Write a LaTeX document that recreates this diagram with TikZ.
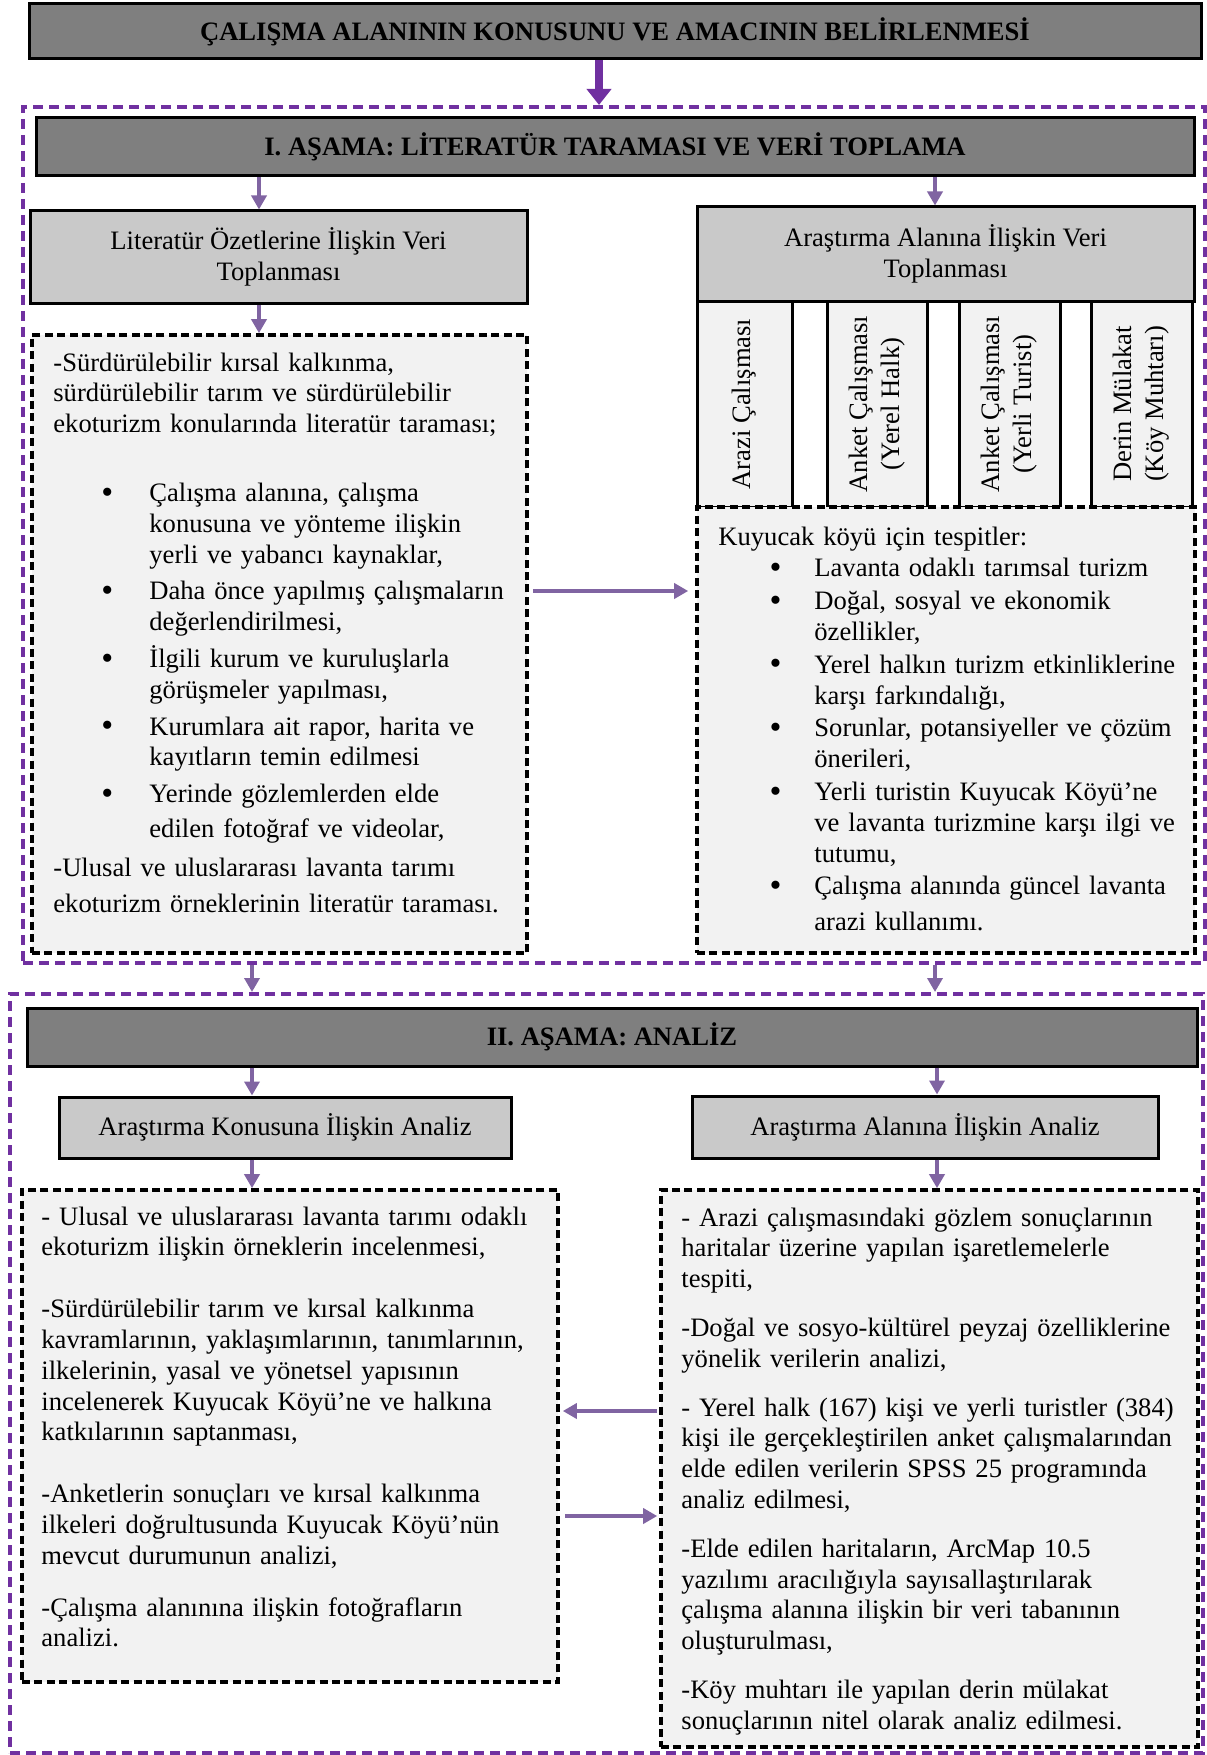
\documentclass[tikz,border=0pt]{standalone}
\usepackage{fontspec}
\setmainfont{Liberation Serif}
\usepackage{enumitem}
\usetikzlibrary{arrows.meta,positioning}
\definecolor{hdgray}{HTML}{7F7F7F}
\definecolor{subgray}{HTML}{C9C9C9}
\definecolor{boxfill}{HTML}{F2F2F2}
\definecolor{phasepurple}{HTML}{7030A0}
\definecolor{arrpurple}{HTML}{8064A2}
\newcommand{\bigbullet}{{\fontsize{17}{15}\selectfont\raisebox{-0.8pt}{\textbullet}}}

\begin{document}
\begin{tikzpicture}[x=0.5pt, y=-0.5pt,
  bighd/.style={draw=black, line width=1.5pt, fill=hdgray, inner sep=0pt,
    font=\fontsize{13.3}{15.4}\selectfont\bfseries},
  subhd/.style={draw=black, line width=1.5pt, fill=subgray, inner sep=0pt, align=center,
    font=\fontsize{13.3}{15.6}\selectfont},
  vbox/.style={draw=black, line width=1.5pt, fill=boxfill, inner sep=0pt, rotate=90,
    align=center, font=\fontsize{13.3}{16}\selectfont},
  notebox/.style={draw=black, line width=1.8pt, dash pattern=on 4pt off 2.2pt, fill=boxfill, inner sep=0pt},
  phase/.style={draw=phasepurple, line width=2pt, dash pattern=on 5pt off 3pt, inner sep=0pt},
  bodytxt/.style={anchor=base west, inner sep=0pt, align=left, text width=268pt,
    font=\fontsize{13.3}{15.4}\selectfont},
  arr/.style={arrpurple, line width=1.8pt, -{Triangle[length=7pt,width=7.5pt]}},
  bigarr/.style={phasepurple, line width=4pt, -{Triangle[length=8pt,width=12pt]}}]

  \useasboundingbox (0,0) rectangle (1206,1755);

  % columns of the arrows
  \coordinate (cTop) at (599,0);
  \coordinate (cL1) at (259,0);
  \coordinate (cR1) at (935,0);
  \coordinate (cL2) at (252,0);
  \coordinate (cR2) at (937,0);
  \coordinate (rA) at (0,591);
  \coordinate (rB) at (0,1411);
  \coordinate (rC) at (0,1516);

  % frames of the two stages
  \node (phA) [phase, minimum width=591pt, minimum height=428pt] at (614,535) {};
  \node (phB) [phase, minimum width=596.5pt, minimum height=379.5pt] at (606.5,1373.5) {};

  \node (top) [bighd, minimum width=586pt, minimum height=27.5pt] at (615,31.5)
    {ÇALIŞMA ALANININ KONUSUNU VE AMACININ BELİRLENMESİ};

  % I. stage
  \node (hdA) [bighd, minimum width=579pt, minimum height=29pt] at (615,147)
    {I. AŞAMA: LİTERATÜR TARAMASI VE VERİ TOPLAMA};
  \node (litHd) [subhd, minimum width=248.5pt, minimum height=46pt] at (278.5,257)
    {Literatür Özetlerine İlişkin Veri\\Toplanması};
  \node (fldHd) [subhd, minimum width=248.5pt, minimum height=47pt] at (945.5,254)
    {Araştırma Alanına İlişkin Veri\\Toplanması};

  \node (arazi) [vbox, minimum width=103pt, minimum height=47.5pt] at (744.5,404) {Arazi Çalışması};
  \node (halk) [vbox, minimum width=103pt, minimum height=50pt] at (877,404) {Anket Çalışması\\(Yerel Halk)};
  \node (turist) [vbox, minimum width=103pt, minimum height=50.5pt] at (1009.5,404) {Anket Çalışması\\(Yerli Turist)};
  \node (muhtar) [vbox, minimum width=103pt, minimum height=50.5pt] at (1141.5,404) {Derin Mülakat\\(Köy Muhtarı)};

  \node (litBox) [notebox, minimum width=247.5pt, minimum height=309pt] at (279.5,644) {};
  \node (fldBox) [notebox, minimum width=249pt, minimum height=223pt] at (946,730) {};

  \node (litTxt) [bodytxt] at (53,371) {%
    -Sürdürülebilir kırsal kalkınma,\\
    sürdürülebilir tarım ve sürdürülebilir\\
    ekoturizm konularında literatür taraması;\par\vspace{19pt}
    \begin{itemize}[label=\bigbullet, leftmargin=48pt, labelsep=18pt, topsep=0pt,
      partopsep=0pt, itemsep=3pt, parsep=0pt]
    \item Çalışma alanına, çalışma\\konusuna ve yönteme ilişkin\\yerli ve yabancı kaynaklar,
    \item Daha önce yapılmış çalışmaların\\değerlendirilmesi,
    \item İlgili kurum ve kuruluşlarla\\görüşmeler yapılması,
    \item Kurumlara ait rapor, harita ve\\kayıtların temin edilmesi
    \item Yerinde gözlemlerden elde\\[2pt]edilen fotoğraf ve videolar,
    \end{itemize}
    \vspace{4pt}
    -Ulusal ve uluslararası lavanta tarımı\\[2.5pt]
    ekoturizm örneklerinin literatür taraması.};

  \node (fldTxt) [bodytxt] at (718,545) {%
    Kuyucak köyü için tespitler:
    \begin{itemize}[label=\bigbullet, leftmargin=48pt, labelsep=16.5pt, topsep=0.5pt,
      partopsep=0pt, itemsep=1pt, parsep=0pt]
    \item Lavanta odaklı tarımsal turizm
    \item Doğal, sosyal ve ekonomik\\özellikler,
    \item Yerel halkın turizm etkinliklerine\\karşı farkındalığı,
    \item Sorunlar, potansiyeller ve çözüm\\önerileri,
    \item Yerli turistin Kuyucak Köyü’ne\\ve lavanta turizmine karşı ilgi ve\\tutumu,
    \item Çalışma alanında güncel lavanta\\[2.5pt]arazi kullanımı.
    \end{itemize}};

  % II. stage
  \node (hdB) [bighd, minimum width=585pt, minimum height=29pt] at (612,1037) {II. AŞAMA: ANALİZ};
  \node (konHd) [subhd, minimum width=226pt, minimum height=30.5pt] at (285,1127.5)
    {Araştırma Konusuna İlişkin Analiz};
  \node (alnHd) [subhd, minimum width=233pt, minimum height=31pt] at (925,1127)
    {Araştırma Alanına İlişkin Analiz};

  \node (konBox) [notebox, minimum width=268pt, minimum height=246pt] at (290,1436) {};
  \node (alnBox) [notebox, minimum width=268.5pt, minimum height=278.5pt] at (929.5,1468.5) {};

  \node (konTxt) [bodytxt] at (41,1225) {%
    - Ulusal ve uluslararası lavanta tarımı odaklı\\
    ekoturizm ilişkin örneklerin incelenmesi,\\[15.5pt]
    -Sürdürülebilir tarım ve kırsal kalkınma\\
    kavramlarının, yaklaşımlarının, tanımlarının,\\
    ilkelerinin, yasal ve yönetsel yapısının\\
    incelenerek Kuyucak Köyü’ne ve halkına\\
    katkılarının saptanması,\\[15.5pt]
    -Anketlerin sonuçları ve kırsal kalkınma\\
    ilkeleri doğrultusunda Kuyucak Köyü’nün\\
    mevcut durumunun analizi,\\[10.5pt]
    -Çalışma alanınına ilişkin fotoğrafların\\
    analizi.};

  \node (alnTxt) [bodytxt] at (681,1226) {%
    - Arazi çalışmasındaki gözlem sonuçlarının\\
    haritalar üzerine yapılan işaretlemelerle\\
    tespiti,\\[9pt]
    -Doğal ve sosyo-kültürel peyzaj özelliklerine\\
    yönelik verilerin analizi,\\[9pt]
    - Yerel halk (167) kişi ve yerli turistler (384)\\
    kişi ile gerçekleştirilen anket çalışmalarından\\
    elde edilen verilerin SPSS 25 programında\\
    analiz edilmesi,\\[9pt]
    -Elde edilen haritaların, ArcMap 10.5\\
    yazılımı aracılığıyla sayısallaştırılarak\\
    çalışma alanına ilişkin bir veri tabanının\\
    oluşturulması,\\[9pt]
    -Köy muhtarı ile yapılan derin mülakat\\
    sonuçlarının nitel olarak analiz edilmesi.};

  % arrows
  \path [bigarr] (top.south -| cTop) edge (phA.north -| cTop);
  \path [arr]
  (hdA.south -| cL1) edge (litHd.north -| cL1)
  (hdA.south -| cR1) edge (fldHd.north -| cR1)
  (litHd.south -| cL1) edge (litBox.north -| cL1)
  (litBox.east |- rA) edge [shorten <=2pt, shorten >=3.5pt] (fldBox.west |- rA)
  (phA.south -| cL2) edge (phB.north -| cL2)
  (phA.south -| cR1) edge (phB.north -| cR1)
  (hdB.south -| cL2) edge (konHd.north -| cL2)
  (hdB.south -| cR2) edge (alnHd.north -| cR2)
  (konHd.south -| cL2) edge (konBox.north -| cL2)
  (alnHd.south -| cR2) edge (alnBox.north -| cR2)
  (alnBox.west |- rB) edge [shorten <=1pt, shorten >=1.5pt] (konBox.east |- rB)
  (konBox.east |- rC) edge [shorten <=2.5pt, shorten >=1pt] (alnBox.west |- rC);

\end{tikzpicture}
\end{document}
